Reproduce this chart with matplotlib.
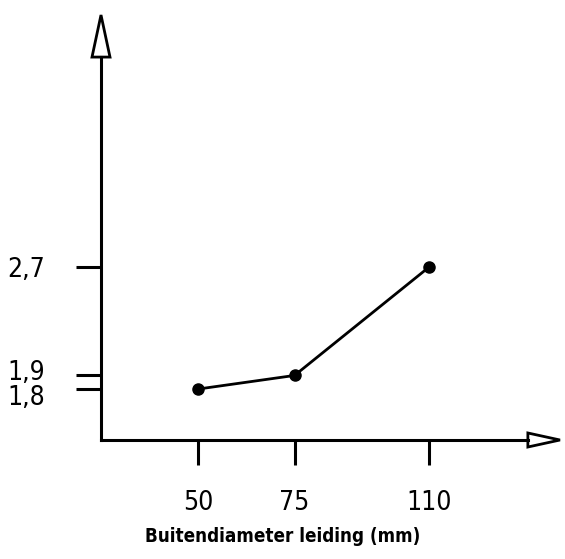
import matplotlib
matplotlib.use("Agg")
import matplotlib.pyplot as plt
from matplotlib.patches import Polygon
from matplotlib.transforms import ScaledTranslation

diameters = [50, 75, 110]
values = [1.8, 1.9, 2.7]
xtick_labels = ["50", "75", "110"]
ytick_vals = [1.8, 1.9, 2.7]
ytick_labels = ["1,8", "1,9", "2,7"]
xlabel = "Buitendiameter leiding (mm)"

fam = ["DejaVu Sans"]

fig = plt.figure(figsize=(5.65, 5.59), dpi=100)
ax = fig.add_axes([101/565, 1-440/559, 459/565, 425/559])
ax.set_xlim(24.7, 144)
ax.set_ylim(1.424, 4.558)

ax.plot(diameters, values, color="black", lw=2.0, marker="o", ms=8,
        solid_capstyle="round", zorder=5)

for s in ["top", "right", "left", "bottom"]:
    ax.spines[s].set_visible(False)

lw = 2.2
ax.plot([0, 0], [0, 0.901], color="black", lw=lw, transform=ax.transAxes, clip_on=False)
ax.plot([0, 0.930], [0, 0], color="black", lw=lw, transform=ax.transAxes, clip_on=False)
ax.add_patch(Polygon([[0, 1.0], [-0.0196, 0.901], [0.0196, 0.901]], closed=True,
                     fc="white", ec="black", lw=2.0, transform=ax.transAxes, clip_on=False))
ax.add_patch(Polygon([[1.0, 0], [0.930, 0.0165], [0.930, -0.0165]], closed=True,
                     fc="white", ec="black", lw=2.0, transform=ax.transAxes, clip_on=False))

ax.set_xticks(diameters)
ax.set_xticklabels(xtick_labels, family=fam, fontstretch="condensed", fontsize=19)
ax.set_yticks(ytick_vals)
ax.set_yticklabels(ytick_labels, family=fam, fontstretch="condensed", fontsize=19)
ax.tick_params(axis="x", direction="out", length=18, width=2.2, pad=18)
ax.tick_params(axis="y", direction="out", length=18, width=2.2, pad=22)

offs = {"1,8": -4/72, "1,9": 4/72}
for lab in ax.get_yticklabels():
    t = lab.get_text()
    if t in offs:
        lab.set_transform(lab.get_transform() + ScaledTranslation(0, offs[t], fig.dpi_scale_trans))

fig.text(283/565, 1-537/559, xlabel, family=fam, fontstretch="condensed", fontsize=13.5,
         fontweight="bold", ha="center", va="center")

fig.savefig("out.png", dpi=100)
